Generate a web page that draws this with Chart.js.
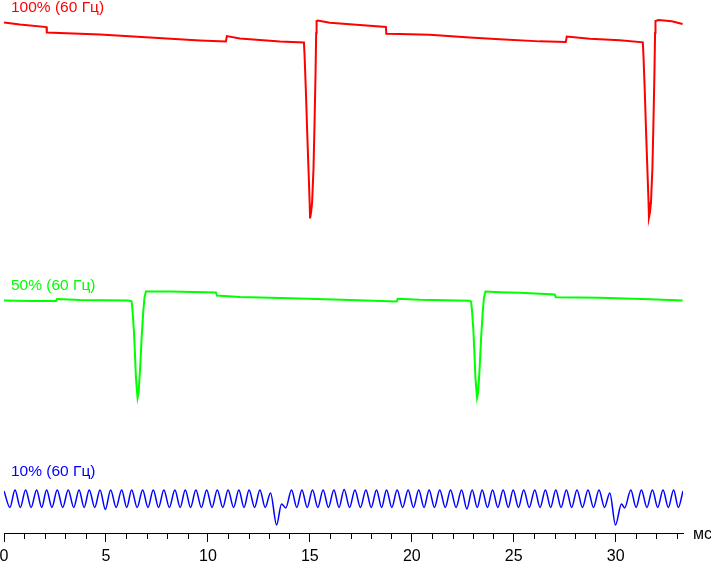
<!DOCTYPE html>
<html lang="ru">
  <head>
    <meta charset="UTF-8" />
    <title>Мерцание подсветки</title>
    <script src="https://cdn.jsdelivr.net/npm/chart.js"></script>
    <style>
      body { margin: 0; background: #fff; }
      canvas { display: block; }
    </style>
  </head>
  <body>
    <canvas id="flickerChart" width="711" height="561"></canvas>

    <script>
      // время в мс, уровень яркости (усл. ед.)
      const redTime = [0, 0.78, 2.08, 2.1, 4.71, 7.16, 9.61, 10.88, 10.93, 11.57, 13.53, 14.71,
        14.74, 14.8, 14.87, 14.94, 14.99, 15.01, 15.06, 15.11, 15.18, 15.23, 15.28, 15.31, 15.33,
        15.39, 15.98, 16.96, 17.94, 18.73, 18.75, 19.41, 20.88, 22.84, 24.31, 26.27, 27.55, 27.6,
        28.73, 30.2, 31.33, 31.36, 31.42, 31.49, 31.56, 31.61, 31.63, 31.68, 31.73, 31.8, 31.85,
        31.9, 31.93, 31.95, 32.1, 32.75, 33.28];
      const redLevel = [510.5, 508.5, 506, 500.5, 498.5, 495.5, 492.5, 491.5, 497, 494.5, 491.5, 490.5,
        478, 445, 401, 360, 331, 315, 321, 331, 365, 410, 461, 500, 512,
        512.5, 510.3, 508.7, 507.3, 506, 499.3, 499, 498.3, 495.5, 493.7, 491.7, 491, 496.5,
        494.3, 492.7, 490.7, 478, 445, 401, 360, 331, 316, 321, 331, 365, 410,
        461, 500, 512, 513, 511.7, 509];

      const greenTime = [0, 1.27, 2.55, 2.6, 3.73, 6.08, 6.22, 6.26, 6.31, 6.37, 6.42, 6.47, 6.52,
        6.55, 6.6, 6.67, 6.75, 6.83, 6.89, 6.96, 8.14, 10.39, 10.44, 11.57, 14.51, 16.96, 19.26,
        19.31, 20.39, 22.84, 22.91, 22.96, 23.02, 23.07, 23.12, 23.17, 23.2, 23.25, 23.32, 23.4,
        23.48, 23.54, 23.61, 24.31, 25.29, 27.01, 27.06, 29.22, 31.67, 33.28];
      const greenLevel = [233, 232.5, 232.5, 234.5, 233.5, 233, 232.5, 232, 221, 203, 181, 156, 143,
        136, 141, 163, 196, 222, 236, 242, 242, 241, 238, 236.5, 235, 233.5, 232,
        234.7, 233.7, 232.7, 232, 221, 203, 181, 156, 143, 136, 141, 163, 196,
        222, 236, 242, 241.3, 240.7, 239, 236.3, 235.7, 234.3, 233];

      const blueTime = [0, 0.29, 0.54, 0.8, 1.06, 1.33, 1.6, 1.85, 2.09, 2.35, 2.61, 2.88, 3.15, 3.42,
        3.68, 3.93, 4.18, 4.45, 4.71, 4.97, 5.23, 5.5, 5.77, 6.02, 6.26, 6.53, 6.8, 7.06, 7.32, 7.58,
        7.84, 8.11, 8.38, 8.64, 8.89, 9.15, 9.41, 9.68, 9.94, 10.2, 10.46, 10.73, 10.99, 11.26, 11.52,
        11.77, 12.02, 12.29, 12.55, 12.81, 13.07, 13.37, 13.61, 13.82, 14.1, 14.36, 14.61, 14.87,
        15.13, 15.39, 15.65, 15.91, 16.18, 16.43, 16.68, 16.95, 17.21, 17.48, 17.75, 18.01, 18.27,
        18.52, 18.76, 19.02, 19.28, 19.55, 19.82, 20.08, 20.34, 20.6, 20.85, 21.11, 21.37, 21.64,
        21.9, 22.17, 22.44, 22.7, 22.96, 23.21, 23.45, 23.71, 23.96, 24.22, 24.48, 24.73, 24.97,
        25.23, 25.49, 25.76, 26.03, 26.29, 26.55, 26.81, 27.06, 27.32, 27.58, 27.84, 28.1, 28.37,
        28.64, 28.91, 29.18, 29.45, 29.71, 29.99, 30.28, 30.44, 30.74, 31, 31.26, 31.53, 31.8,
        32.06, 32.32, 32.58, 32.84, 33.07, 33.3];
      const blueLevel = [43, 26.5, 44, 26.5, 44, 26.5, 44, 26.5, 44, 26.5, 44, 26.5, 44, 26.5,
        44, 26.5, 44, 26.5, 44, 24.5, 44, 26.5, 44, 26.5, 44, 26.5, 44, 26.5, 44, 26.5,
        44, 26.5, 44, 26.5, 44, 26.5, 44, 26.5, 44, 26.5, 44, 26.5, 44, 26.5, 44,
        26.5, 44, 26.5, 44, 26.5, 41, 9, 30, 26, 44, 26.5, 44, 26.5,
        44, 26.5, 44, 26.5, 44, 26.5, 44.5, 26.5, 44, 26.5, 44, 26.5, 44,
        26.5, 44, 26.5, 44, 26.5, 44, 26.5, 44, 26.5, 44, 26.5, 44, 26.5,
        44, 26.5, 44, 25, 44, 26.5, 44, 26.5, 44, 26.5, 44, 26.5, 44,
        26.5, 44, 26.5, 44, 26.5, 44, 26.5, 44, 26.5, 44, 26.5, 44, 26.5,
        44, 26.5, 44, 26.5, 41, 9, 30, 26, 44, 26.5, 44, 26.5, 44,
        26.5, 44, 26.5, 44, 26.5, 43];

      const seriesNames = ["100% (60 Гц)", "50% (60 Гц)", "10% (60 Гц)"];
      const seriesColors = ["#ff0000", "#00ff00", "#0000ff"];
      const labelBaseline = [12, 290, 476]; // пиксели
      const unitLabel = "мс";

      function toPoints(times, levels) {
        return times.map((t, i) => ({ x: t, y: levels[i] }));
      }

      // подписи серий, единица оси и мелкие засечки
      const decorPlugin = {
        id: "decor",
        afterDraw(chart) {
          const ctx = chart.ctx;
          const xs = chart.scales.x;
          const bottom = chart.chartArea.bottom;
          ctx.save();
          ctx.strokeStyle = "#000";
          ctx.lineWidth = 1;
          ctx.beginPath();
          for (let i = Math.ceil(xs.min); i <= xs.max; i++) {
            if (i % 5 === 0) continue;
            const px = Math.round(xs.getPixelForValue(i)) + 0.5;
            ctx.moveTo(px, bottom);
            ctx.lineTo(px, bottom + 5);
          }
          ctx.stroke();

          ctx.font = '15.5px "Liberation Sans", Arial, sans-serif';
          ctx.textBaseline = "alphabetic";
          ctx.textAlign = "left";
          seriesNames.forEach((name, i) => {
            ctx.fillStyle = seriesColors[i];
            ctx.fillText(name, 11, labelBaseline[i]);
          });

          ctx.font = '16px "Liberation Sans", Arial, sans-serif';
          ctx.fillStyle = "#000";
          ctx.fillText(unitLabel, 693, 539);
          ctx.restore();
        },
      };

      const ctx = document.getElementById("flickerChart").getContext("2d");
      new Chart(ctx, {
        type: "line",
        data: {
          datasets: [
            {
              label: seriesNames[0],
              data: toPoints(redTime, redLevel),
              borderColor: seriesColors[0],
              borderWidth: 2,
            },
            {
              label: seriesNames[1],
              data: toPoints(greenTime, greenLevel),
              borderColor: seriesColors[1],
              borderWidth: 2,
            },
            {
              label: seriesNames[2],
              data: toPoints(blueTime, blueLevel),
              borderColor: seriesColors[2],
              borderWidth: 1.5,
              cubicInterpolationMode: "monotone",
            },
          ],
        },
        options: {
          responsive: false,
          animation: false,
          events: [],
          layout: { padding: { left: 4, right: 28, top: 0, bottom: -10 } },
          elements: { point: { radius: 0 }, line: { tension: 0 } },
          plugins: { legend: { display: false }, tooltip: { enabled: false } },
          scales: {
            x: {
              type: "linear",
              min: 0,
              max: 33.3,
              afterFit(scale) {
                scale.paddingLeft = 0;
                scale.paddingRight = 0;
              },
              border: { display: true, color: "#000", width: 1 },
              grid: { drawOnChartArea: false, drawTicks: true, tickLength: 8, color: "#000" },
              ticks: {
                stepSize: 5,
                includeBounds: false,
                autoSkip: false,
                maxRotation: 0,
                padding: 9,
                color: "#000",
                font: { family: '"Liberation Sans", Arial, sans-serif', size: 16, lineHeight: 0.69 },
              },
            },
            y: { display: false, min: 0, max: 533 },
          },
        },
        plugins: [decorPlugin],
      });
    </script>
  </body>
</html>
